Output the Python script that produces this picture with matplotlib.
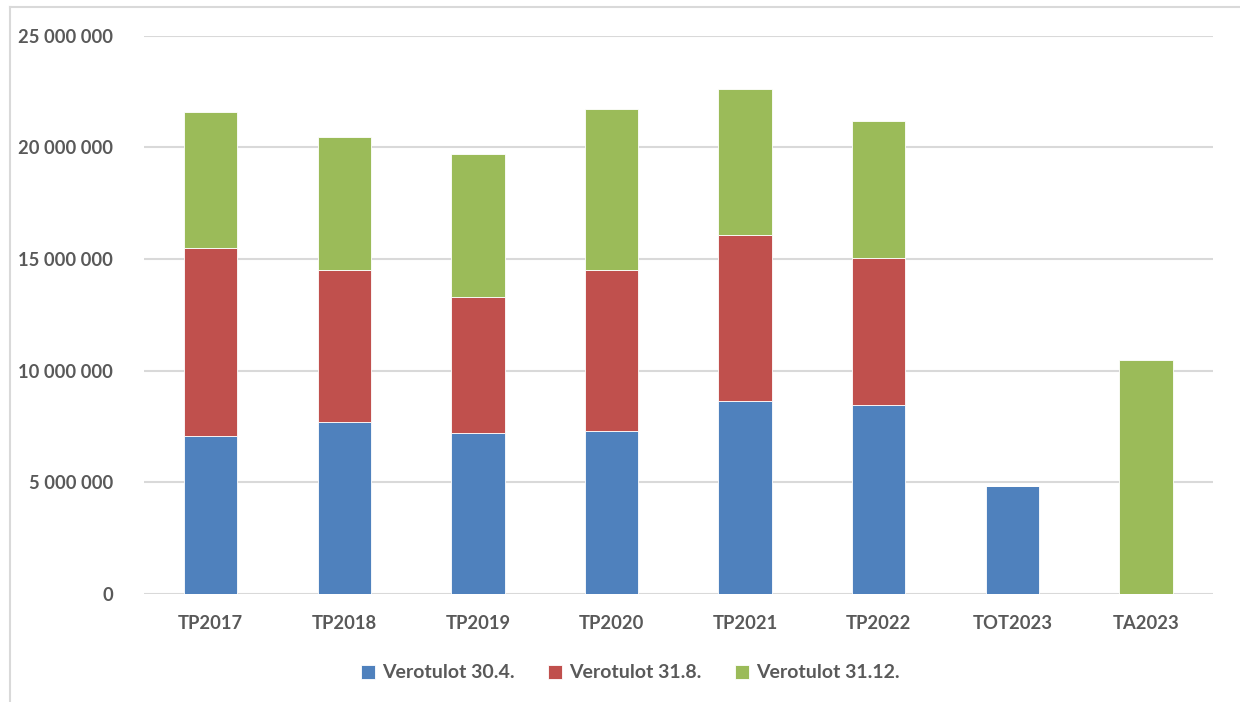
import numpy as np
import matplotlib
matplotlib.use("Agg")
import matplotlib.pyplot as plt
import matplotlib.ticker as ticker
from matplotlib.lines import Line2D

categories = ["TP2017", "TP2018", "TP2019", "TP2020", "TP2021", "TP2022", "TOT2023", "TA2023"]
vero_30_4 = [7080000, 7710000, 7210000, 7300000, 8650000, 8470000, 4840000, 0]
vero_31_8 = [8420000, 6810000, 6100000, 7220000, 7430000, 6580000, 0, 0]
vero_31_12 = [6100000, 5950000, 6400000, 7210000, 6550000, 6140000, 0, 10480000]
series_names = ["Verotulot 30.4.", "Verotulot 31.8.", "Verotulot 31.12."]
COLORS = ["#4F81BD", "#C0504D", "#9BBB59"]
TEXT = "#595959"

plt.rcParams["font.family"] = ["Lato", "DejaVu Sans"]
plt.rcParams["font.weight"] = "bold"

fig = plt.figure(figsize=(12.4, 7.02), dpi=100)
ax = fig.add_axes([0.116, 0.154, 0.862, 0.795])

x = np.arange(len(categories))
bottom = np.zeros(len(categories))
for vals, name, c in zip([vero_30_4, vero_31_8, vero_31_12], series_names, COLORS):
    vals = np.array(vals, dtype=float)
    ax.bar(x, vals, 0.4, bottom=bottom, color=c, label=name,
           edgecolor="white", linewidth=0.6, zorder=3)
    bottom += vals

ax.set_xlim(-0.5, len(categories) - 0.5)
ax.set_ylim(0, 25000000)
ax.yaxis.set_major_locator(ticker.MultipleLocator(5000000))
ax.yaxis.set_major_formatter(ticker.FuncFormatter(lambda v, _: f"{v:,.0f}".replace(",", " ")))
ax.set_xticks(x)
ax.set_xticklabels(categories)
ax.grid(axis="y", color="#d9d9d9", linewidth=1.5, zorder=0)
for s in ax.spines.values():
    s.set_visible(False)
ax.tick_params(length=0, labelsize=13.2, colors=TEXT)
ax.tick_params(axis="y", pad=22)
ax.tick_params(axis="x", pad=15)
for lbl in ax.get_xticklabels() + ax.get_yticklabels():
    lbl.set_fontweight("bold")

leg = ax.legend(loc="upper center", bbox_to_anchor=(0.455, -0.095), ncol=3,
                frameon=False, fontsize=14, handlelength=0.75, handleheight=0.75,
                handletextpad=0.35, columnspacing=1.7)
for t in leg.get_texts():
    t.set_color(TEXT)

# light border of the chart area
fig.add_artist(Line2D([0.008, 1.0], [0.99, 0.99], color="#d9d9d9", linewidth=1.5))
fig.add_artist(Line2D([0.008, 0.008], [0.0, 0.99], color="#d9d9d9", linewidth=1.5))

fig.savefig("out.png", dpi=100, facecolor="white")
